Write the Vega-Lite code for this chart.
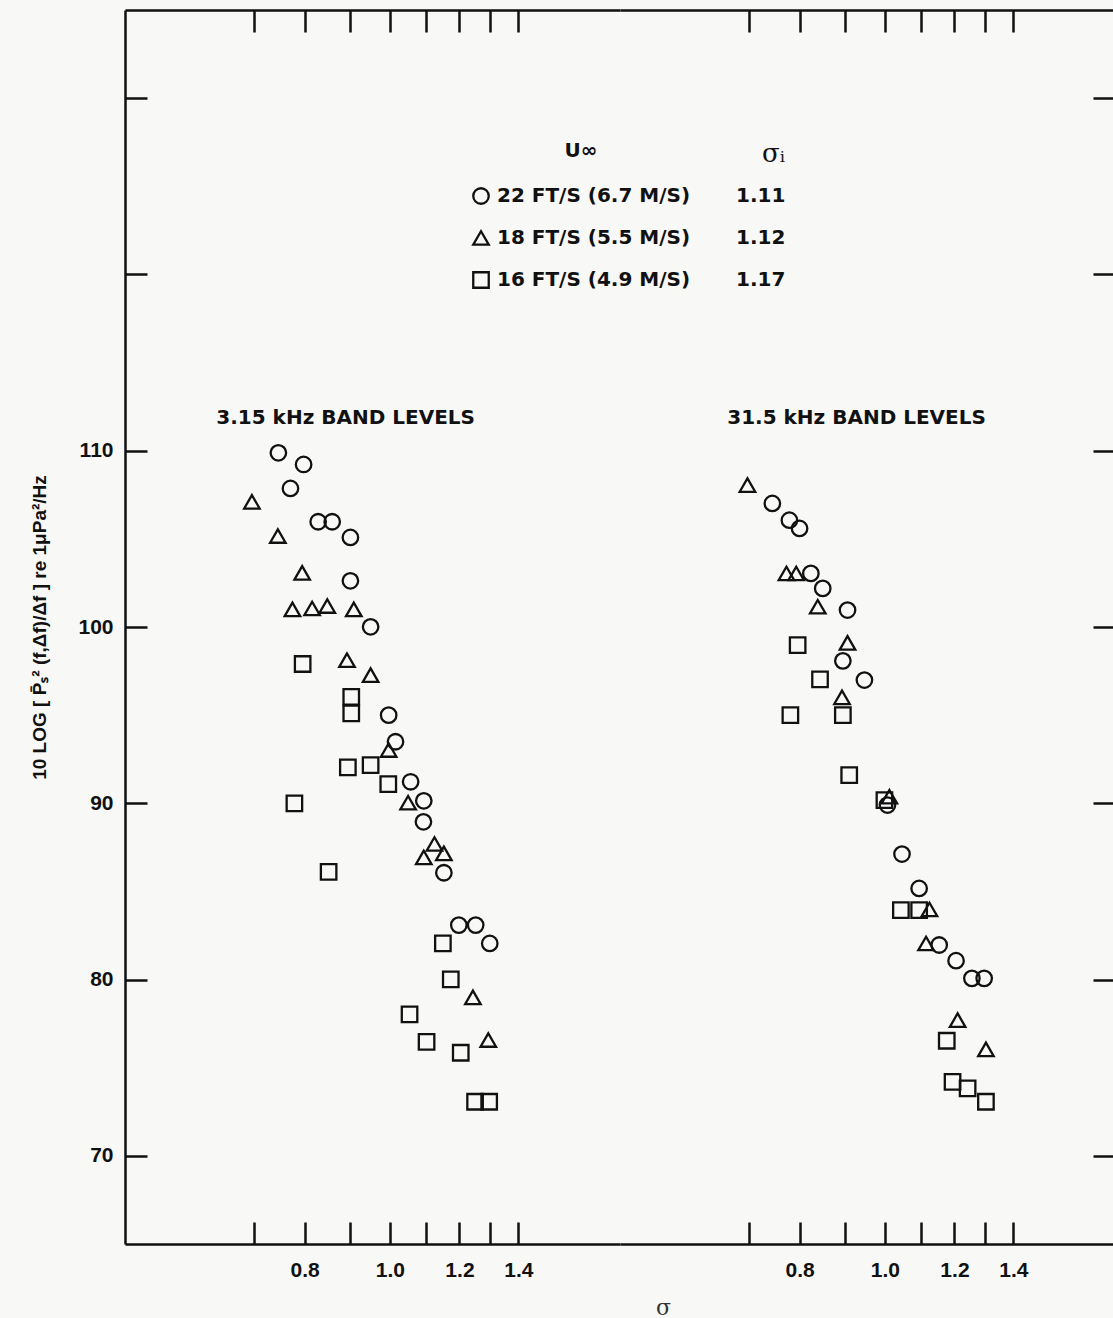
{
"$schema":"https://vega.github.io/schema/vega-lite/v6.json",
"background":"#f8f8f6",
"padding":{"left":30,"top":8,"right":0,"bottom":0},
"spacing":0,
"config":{
 "view":{"stroke":null},
 "axis":{"grid":false,"domainColor":"#111","domainWidth":2.5,"tickColor":"#111","tickWidth":2.5,"tickSize":-22,"labelFont":"Liberation Sans","labelFontWeight":"bold","labelFontSize":21,"labelColor":"#111","titleColor":"#111","labelOverlap":false,"labelFlush":false},
 "mark":{"color":"#111"}
},
"datasets":{
 "points":[
  {"band":"3.15 kHz","speed":"22 FT/S (6.7 M/S)","sigma_i":"1.11","sigma":0.747,"level":109.88},
  {"band":"3.15 kHz","speed":"22 FT/S (6.7 M/S)","sigma_i":"1.11","sigma":0.798,"level":109.22},
  {"band":"3.15 kHz","speed":"22 FT/S (6.7 M/S)","sigma_i":"1.11","sigma":0.771,"level":107.86},
  {"band":"3.15 kHz","speed":"22 FT/S (6.7 M/S)","sigma_i":"1.11","sigma":0.829,"level":105.97},
  {"band":"3.15 kHz","speed":"22 FT/S (6.7 M/S)","sigma_i":"1.11","sigma":0.860,"level":105.97},
  {"band":"3.15 kHz","speed":"22 FT/S (6.7 M/S)","sigma_i":"1.11","sigma":0.902,"level":105.08},
  {"band":"3.15 kHz","speed":"22 FT/S (6.7 M/S)","sigma_i":"1.11","sigma":0.902,"level":102.62},
  {"band":"3.15 kHz","speed":"22 FT/S (6.7 M/S)","sigma_i":"1.11","sigma":0.951,"level":100.01},
  {"band":"3.15 kHz","speed":"22 FT/S (6.7 M/S)","sigma_i":"1.11","sigma":0.997,"level":95.0},
  {"band":"3.15 kHz","speed":"22 FT/S (6.7 M/S)","sigma_i":"1.11","sigma":1.015,"level":93.49},
  {"band":"3.15 kHz","speed":"22 FT/S (6.7 M/S)","sigma_i":"1.11","sigma":1.056,"level":91.22},
  {"band":"3.15 kHz","speed":"22 FT/S (6.7 M/S)","sigma_i":"1.11","sigma":1.093,"level":90.14},
  {"band":"3.15 kHz","speed":"22 FT/S (6.7 M/S)","sigma_i":"1.11","sigma":1.092,"level":88.95},
  {"band":"3.15 kHz","speed":"22 FT/S (6.7 M/S)","sigma_i":"1.11","sigma":1.152,"level":86.06},
  {"band":"3.15 kHz","speed":"22 FT/S (6.7 M/S)","sigma_i":"1.11","sigma":1.198,"level":83.09},
  {"band":"3.15 kHz","speed":"22 FT/S (6.7 M/S)","sigma_i":"1.11","sigma":1.252,"level":83.09},
  {"band":"3.15 kHz","speed":"22 FT/S (6.7 M/S)","sigma_i":"1.11","sigma":1.299,"level":82.05},
  {"band":"3.15 kHz","speed":"18 FT/S (5.5 M/S)","sigma_i":"1.12","sigma":0.697,"level":107.10},
  {"band":"3.15 kHz","speed":"18 FT/S (5.5 M/S)","sigma_i":"1.12","sigma":0.746,"level":105.16},
  {"band":"3.15 kHz","speed":"18 FT/S (5.5 M/S)","sigma_i":"1.12","sigma":0.795,"level":103.07},
  {"band":"3.15 kHz","speed":"18 FT/S (5.5 M/S)","sigma_i":"1.12","sigma":0.775,"level":101.0},
  {"band":"3.15 kHz","speed":"18 FT/S (5.5 M/S)","sigma_i":"1.12","sigma":0.816,"level":101.05},
  {"band":"3.15 kHz","speed":"18 FT/S (5.5 M/S)","sigma_i":"1.12","sigma":0.849,"level":101.19},
  {"band":"3.15 kHz","speed":"18 FT/S (5.5 M/S)","sigma_i":"1.12","sigma":0.910,"level":101.0},
  {"band":"3.15 kHz","speed":"18 FT/S (5.5 M/S)","sigma_i":"1.12","sigma":0.894,"level":98.12},
  {"band":"3.15 kHz","speed":"18 FT/S (5.5 M/S)","sigma_i":"1.12","sigma":0.951,"level":97.27},
  {"band":"3.15 kHz","speed":"18 FT/S (5.5 M/S)","sigma_i":"1.12","sigma":0.997,"level":93.02},
  {"band":"3.15 kHz","speed":"18 FT/S (5.5 M/S)","sigma_i":"1.12","sigma":1.049,"level":90.03},
  {"band":"3.15 kHz","speed":"18 FT/S (5.5 M/S)","sigma_i":"1.12","sigma":1.124,"level":87.69},
  {"band":"3.15 kHz","speed":"18 FT/S (5.5 M/S)","sigma_i":"1.12","sigma":1.093,"level":86.93},
  {"band":"3.15 kHz","speed":"18 FT/S (5.5 M/S)","sigma_i":"1.12","sigma":1.152,"level":87.16},
  {"band":"3.15 kHz","speed":"18 FT/S (5.5 M/S)","sigma_i":"1.12","sigma":1.243,"level":78.99},
  {"band":"3.15 kHz","speed":"18 FT/S (5.5 M/S)","sigma_i":"1.12","sigma":1.294,"level":76.57},
  {"band":"3.15 kHz","speed":"16 FT/S (4.9 M/S)","sigma_i":"1.17","sigma":0.796,"level":97.90},
  {"band":"3.15 kHz","speed":"16 FT/S (4.9 M/S)","sigma_i":"1.17","sigma":0.904,"level":96.04},
  {"band":"3.15 kHz","speed":"16 FT/S (4.9 M/S)","sigma_i":"1.17","sigma":0.904,"level":95.10},
  {"band":"3.15 kHz","speed":"16 FT/S (4.9 M/S)","sigma_i":"1.17","sigma":0.896,"level":92.04},
  {"band":"3.15 kHz","speed":"16 FT/S (4.9 M/S)","sigma_i":"1.17","sigma":0.951,"level":92.17},
  {"band":"3.15 kHz","speed":"16 FT/S (4.9 M/S)","sigma_i":"1.17","sigma":0.996,"level":91.09},
  {"band":"3.15 kHz","speed":"16 FT/S (4.9 M/S)","sigma_i":"1.17","sigma":0.779,"level":89.99},
  {"band":"3.15 kHz","speed":"16 FT/S (4.9 M/S)","sigma_i":"1.17","sigma":0.852,"level":86.11},
  {"band":"3.15 kHz","speed":"16 FT/S (4.9 M/S)","sigma_i":"1.17","sigma":1.149,"level":82.05},
  {"band":"3.15 kHz","speed":"16 FT/S (4.9 M/S)","sigma_i":"1.17","sigma":1.173,"level":80.01},
  {"band":"3.15 kHz","speed":"16 FT/S (4.9 M/S)","sigma_i":"1.17","sigma":1.053,"level":78.03},
  {"band":"3.15 kHz","speed":"16 FT/S (4.9 M/S)","sigma_i":"1.17","sigma":1.101,"level":76.47},
  {"band":"3.15 kHz","speed":"16 FT/S (4.9 M/S)","sigma_i":"1.17","sigma":1.204,"level":75.85},
  {"band":"3.15 kHz","speed":"16 FT/S (4.9 M/S)","sigma_i":"1.17","sigma":1.250,"level":73.07},
  {"band":"3.15 kHz","speed":"16 FT/S (4.9 M/S)","sigma_i":"1.17","sigma":1.297,"level":73.07},
  {"band":"31.5 kHz","speed":"22 FT/S (6.7 M/S)","sigma_i":"1.11","sigma":0.745,"level":107.01},
  {"band":"31.5 kHz","speed":"22 FT/S (6.7 M/S)","sigma_i":"1.11","sigma":0.779,"level":106.06},
  {"band":"31.5 kHz","speed":"22 FT/S (6.7 M/S)","sigma_i":"1.11","sigma":0.800,"level":105.59},
  {"band":"31.5 kHz","speed":"22 FT/S (6.7 M/S)","sigma_i":"1.11","sigma":0.824,"level":103.04},
  {"band":"31.5 kHz","speed":"22 FT/S (6.7 M/S)","sigma_i":"1.11","sigma":0.850,"level":102.19},
  {"band":"31.5 kHz","speed":"22 FT/S (6.7 M/S)","sigma_i":"1.11","sigma":0.907,"level":100.96},
  {"band":"31.5 kHz","speed":"22 FT/S (6.7 M/S)","sigma_i":"1.11","sigma":0.896,"level":98.08},
  {"band":"31.5 kHz","speed":"22 FT/S (6.7 M/S)","sigma_i":"1.11","sigma":0.948,"level":96.99},
  {"band":"31.5 kHz","speed":"22 FT/S (6.7 M/S)","sigma_i":"1.11","sigma":1.007,"level":89.90},
  {"band":"31.5 kHz","speed":"22 FT/S (6.7 M/S)","sigma_i":"1.11","sigma":1.046,"level":87.12},
  {"band":"31.5 kHz","speed":"22 FT/S (6.7 M/S)","sigma_i":"1.11","sigma":1.094,"level":85.17},
  {"band":"31.5 kHz","speed":"22 FT/S (6.7 M/S)","sigma_i":"1.11","sigma":1.153,"level":81.96},
  {"band":"31.5 kHz","speed":"22 FT/S (6.7 M/S)","sigma_i":"1.11","sigma":1.205,"level":81.07},
  {"band":"31.5 kHz","speed":"22 FT/S (6.7 M/S)","sigma_i":"1.11","sigma":1.256,"level":80.07},
  {"band":"31.5 kHz","speed":"22 FT/S (6.7 M/S)","sigma_i":"1.11","sigma":1.297,"level":80.07},
  {"band":"31.5 kHz","speed":"18 FT/S (5.5 M/S)","sigma_i":"1.12","sigma":0.698,"level":108.05},
  {"band":"31.5 kHz","speed":"18 FT/S (5.5 M/S)","sigma_i":"1.12","sigma":0.773,"level":103.04},
  {"band":"31.5 kHz","speed":"18 FT/S (5.5 M/S)","sigma_i":"1.12","sigma":0.793,"level":103.04},
  {"band":"31.5 kHz","speed":"18 FT/S (5.5 M/S)","sigma_i":"1.12","sigma":0.839,"level":101.15},
  {"band":"31.5 kHz","speed":"18 FT/S (5.5 M/S)","sigma_i":"1.12","sigma":0.907,"level":99.10},
  {"band":"31.5 kHz","speed":"18 FT/S (5.5 M/S)","sigma_i":"1.12","sigma":0.894,"level":96.01},
  {"band":"31.5 kHz","speed":"18 FT/S (5.5 M/S)","sigma_i":"1.12","sigma":1.012,"level":90.37},
  {"band":"31.5 kHz","speed":"18 FT/S (5.5 M/S)","sigma_i":"1.12","sigma":1.124,"level":83.98},
  {"band":"31.5 kHz","speed":"18 FT/S (5.5 M/S)","sigma_i":"1.12","sigma":1.114,"level":82.05},
  {"band":"31.5 kHz","speed":"18 FT/S (5.5 M/S)","sigma_i":"1.12","sigma":1.210,"level":77.70},
  {"band":"31.5 kHz","speed":"18 FT/S (5.5 M/S)","sigma_i":"1.12","sigma":1.303,"level":76.04},
  {"band":"31.5 kHz","speed":"16 FT/S (4.9 M/S)","sigma_i":"1.17","sigma":0.796,"level":98.97},
  {"band":"31.5 kHz","speed":"16 FT/S (4.9 M/S)","sigma_i":"1.17","sigma":0.844,"level":97.03},
  {"band":"31.5 kHz","speed":"16 FT/S (4.9 M/S)","sigma_i":"1.17","sigma":0.781,"level":95.0},
  {"band":"31.5 kHz","speed":"16 FT/S (4.9 M/S)","sigma_i":"1.17","sigma":0.896,"level":95.0},
  {"band":"31.5 kHz","speed":"16 FT/S (4.9 M/S)","sigma_i":"1.17","sigma":0.911,"level":91.60},
  {"band":"31.5 kHz","speed":"16 FT/S (4.9 M/S)","sigma_i":"1.17","sigma":0.999,"level":90.18},
  {"band":"31.5 kHz","speed":"16 FT/S (4.9 M/S)","sigma_i":"1.17","sigma":1.043,"level":83.94},
  {"band":"31.5 kHz","speed":"16 FT/S (4.9 M/S)","sigma_i":"1.17","sigma":1.094,"level":83.94},
  {"band":"31.5 kHz","speed":"16 FT/S (4.9 M/S)","sigma_i":"1.17","sigma":1.176,"level":76.53},
  {"band":"31.5 kHz","speed":"16 FT/S (4.9 M/S)","sigma_i":"1.17","sigma":1.194,"level":74.20},
  {"band":"31.5 kHz","speed":"16 FT/S (4.9 M/S)","sigma_i":"1.17","sigma":1.242,"level":73.83},
  {"band":"31.5 kHz","speed":"16 FT/S (4.9 M/S)","sigma_i":"1.17","sigma":1.303,"level":73.07}
 ],
 "bands":[
  {"band":"3.15 kHz","label":"3.15 kHz BAND LEVELS","sigma":0.635,"level":111.85},
  {"band":"31.5 kHz","label":"31.5 kHz BAND LEVELS","sigma":0.662,"level":111.85}
 ]
},
"hconcat":[
 {
  "width":495,"height":1234,
  "resolve":{"axis":{"x":"independent"}},
  "layer":[
   {
    "data":{"name":"points"},
    "transform":[{"filter":"datum.band === '3.15 kHz'"}],
    "mark":{"type":"point","filled":false,"strokeWidth":2.3,"opacity":1,"size":240},
    "encoding":{
     "x":{"field":"sigma","type":"quantitative","scale":{"type":"log","domain":[0.5,1.8267],"nice":false},
          "axis":{"orient":"bottom","values":[0.7,0.8,0.9,1.0,1.1,1.2,1.3,1.4],"labelExpr":"(datum.value==0.8||datum.value==1||datum.value==1.2||datum.value==1.4) ? format(datum.value,'.1f') : ''","title":null,"labelPadding":37}},
     "y":{"field":"level","type":"quantitative","scale":{"domain":[65,135],"nice":false,"zero":false},
          "axis":{"orient":"left","values":[70,80,90,100,110,120,130],"labelExpr":"datum.value <= 110 ? datum.label : ''","labelPadding":34,
                  "title":"10 LOG  [  P̄ₛ²    (f,Δf)/Δf  ]   re 1μPa²/Hz","titleFont":"Liberation Sans","titleFontSize":19,"titleFontWeight":"bold","titlePadding":28}},
     "shape":{"field":"speed","type":"nominal","scale":{"domain":["22 FT/S (6.7 M/S)","18 FT/S (5.5 M/S)","16 FT/S (4.9 M/S)"],"range":["circle","triangle-up","square"]},
          "legend":{"orient":"none","legendX":346,"legendY":131,"title":"U∞","titleFont":"DejaVu Sans","titleFontWeight":"bold","titleFontSize":20,"titleAnchor":"middle","titlePadding":25,"titleColor":"#111","labelFont":"DejaVu Sans","labelFontWeight":"bold","labelFontSize":20,"labelColor":"#111","labelOffset":6,"rowPadding":17,"symbolSize":240,"symbolStrokeWidth":2.3,"symbolStrokeColor":"#111","symbolFillColor":"transparent","labelLimit":400}},
     "color":{"field":"sigma_i","type":"nominal","scale":{"domain":["1.11","1.12","1.17"],"range":["#111","#111","#111"]},
          "legend":{"orient":"none","legendX":591,"legendY":131,"title":"σᵢ","titleFont":"DejaVu Serif","titleFontWeight":"normal","titleFontSize":26,"titleAnchor":"end","titlePadding":19,"titleColor":"#111","labelFont":"DejaVu Sans","labelFontWeight":"bold","labelFontSize":20,"labelColor":"#111","labelOffset":0,"rowPadding":22,"symbolSize":0,"symbolOpacity":0,"symbolStrokeWidth":0}}
    }
   },
   {
    "data":{"name":"bands"},
    "transform":[{"filter":"datum.band === '3.15 kHz'"}],
    "mark":{"type":"text","align":"left","baseline":"middle","font":"DejaVu Sans","fontWeight":"bold","fontSize":20,"color":"#111"},
    "encoding":{
     "x":{"field":"sigma","type":"quantitative","scale":{"type":"log","domain":[0.5,1.8267],"nice":false},
          "axis":{"orient":"top","values":[0.7,0.8,0.9,1.0,1.1,1.2,1.3,1.4],"labels":false,"title":null}},
     "y":{"field":"level","type":"quantitative","scale":{"domain":[65,135],"nice":false,"zero":false},
          "axis":{"orient":"left","values":[70,80,90,100,110,120,130],"labelExpr":"datum.value <= 110 ? datum.label : ''","labelPadding":34,
                  "title":"10 LOG  [  P̄ₛ²    (f,Δf)/Δf  ]   re 1μPa²/Hz","titleFont":"Liberation Sans","titleFontSize":19,"titleFontWeight":"bold","titlePadding":28}},
     "text":{"field":"label"}
    }
   }
  ]
 },
 {
  "width":495,"height":1234,
  "resolve":{"axis":{"x":"independent"}},
  "layer":[
   {
    "data":{"name":"points"},
    "transform":[{"filter":"datum.band === '31.5 kHz'"}],
    "mark":{"type":"point","filled":false,"strokeWidth":2.3,"opacity":1,"size":240},
    "encoding":{
     "x":{"field":"sigma","type":"quantitative","scale":{"type":"log","domain":[0.5,1.8267],"nice":false},
          "axis":{"orient":"bottom","values":[0.7,0.8,0.9,1.0,1.1,1.2,1.3,1.4],"labelExpr":"(datum.value==0.8||datum.value==1||datum.value==1.2||datum.value==1.4) ? format(datum.value,'.1f') : ''","title":null,"labelPadding":37}},
     "y":{"field":"level","type":"quantitative","scale":{"domain":[65,135],"nice":false,"zero":false},
          "axis":{"orient":"right","values":[70,80,90,100,110,120,130],"labels":false,"title":null}},
     "shape":{"field":"speed","type":"nominal","scale":{"domain":["22 FT/S (6.7 M/S)","18 FT/S (5.5 M/S)","16 FT/S (4.9 M/S)"],"range":["circle","triangle-up","square"]},
          "legend":{"orient":"none","legendX":346,"legendY":131,"title":"U∞","titleFont":"DejaVu Sans","titleFontWeight":"bold","titleFontSize":20,"titleAnchor":"middle","titlePadding":25,"titleColor":"#111","labelFont":"DejaVu Sans","labelFontWeight":"bold","labelFontSize":20,"labelColor":"#111","labelOffset":6,"rowPadding":17,"symbolSize":240,"symbolStrokeWidth":2.3,"symbolStrokeColor":"#111","symbolFillColor":"transparent","labelLimit":400}},
     "color":{"field":"sigma_i","type":"nominal","scale":{"domain":["1.11","1.12","1.17"],"range":["#111","#111","#111"]},
          "legend":{"orient":"none","legendX":591,"legendY":131,"title":"σᵢ","titleFont":"DejaVu Serif","titleFontWeight":"normal","titleFontSize":26,"titleAnchor":"end","titlePadding":19,"titleColor":"#111","labelFont":"DejaVu Sans","labelFontWeight":"bold","labelFontSize":20,"labelColor":"#111","labelOffset":0,"rowPadding":22,"symbolSize":0,"symbolOpacity":0,"symbolStrokeWidth":0}}
    }
   },
   {
    "data":{"name":"bands"},
    "transform":[{"filter":"datum.band === '31.5 kHz'"}],
    "mark":{"type":"text","align":"left","baseline":"middle","font":"DejaVu Sans","fontWeight":"bold","fontSize":20,"color":"#111"},
    "encoding":{
     "x":{"field":"sigma","type":"quantitative","scale":{"type":"log","domain":[0.5,1.8267],"nice":false},
          "axis":{"orient":"top","values":[0.7,0.8,0.9,1.0,1.1,1.2,1.3,1.4],"labels":false,"title":null}},
     "y":{"field":"level","type":"quantitative","scale":{"domain":[65,135],"nice":false,"zero":false},
          "axis":{"orient":"right","values":[70,80,90,100,110,120,130],"labels":false,"title":null}},
     "text":{"field":"label"}
    }
   }
  ]
 }
],
"title":{"text":"σ","orient":"bottom","anchor":"middle","dx":90,"font":"DejaVu Serif","fontSize":22,"fontWeight":"normal","color":"#333","offset":18}
}
